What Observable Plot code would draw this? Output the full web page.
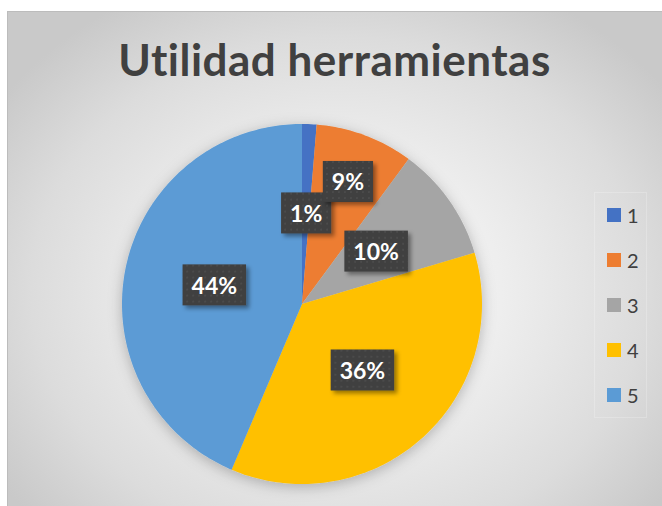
<!DOCTYPE html>
<html>
<head>
<meta charset="utf-8">
<script src="https://cdn.jsdelivr.net/npm/d3@7"></script>
<script src="https://cdn.jsdelivr.net/npm/@observablehq/plot@0.6"></script>
<style>
  body { margin: 0; background: #fff; }
  #wrap { position: relative; width: 662px; height: 506px; overflow: hidden; background: #fff; }
  #frame { position: absolute; left: 7px; top: 11px; width: 662px; height: 500px; box-sizing: border-box;
    border: 1px solid #bcbcbc;
    background: radial-gradient(ellipse 62% 68% at 50% 56%, #f8f8f8 0%, #eeeeee 40%, #dcdcdc 75%, #c9c9c9 100%); }
  #title { position: absolute; left: 7px; width: 655px; top: 33px; text-align: center;
    font-family: Lato, "Open Sans", sans-serif; font-weight: bold; font-size: 44px; letter-spacing: 0.5px;
    font-variant-ligatures: none; color: #404040; line-height: 52px; }
  #chart { position: absolute; left: 0; top: 0; }
  #legend { position: absolute; left: 594px; top: 192px; width: 53px; height: 226px; box-sizing: border-box;
    border: 1px solid rgba(255,255,255,0.22); }
  .item { position: absolute; left: 12px; height: 20px; display: flex; align-items: center;
    font-family: Lato, "Open Sans", sans-serif; font-size: 20px; color: #404040; }
  .sw { width: 14px; height: 14px; margin-right: 6px; }
</style>
</head>
<body>
<div id="wrap">
  <div id="frame"></div>
  <div id="title">Utilidad herramientas</div>
  <div id="chart"></div>
  <div id="legend"></div>
</div>
<script>
// ---- data ----
const categories = ["1", "2", "3", "4", "5"];
const values = [1.3, 8.8, 10.3, 36.0, 43.6];
const labels = ["1%", "9%", "10%", "36%", "44%"];
const colors = ["#4472C4", "#ED7D31", "#A5A5A5", "#FFC000", "#5B9BD5"];

// ---- derived geometry (from data) ----
const total = d3.sum(values);
let acc = 0;
const slices = values.map((v, i) => {
  const a0 = acc / total * 2 * Math.PI;
  acc += v;
  const a1 = acc / total * 2 * Math.PI;
  return { cat: categories[i], a0, a1, label: labels[i] };
});
const pts = slices.flatMap(s => {
  const n = Math.max(2, Math.ceil((s.a1 - s.a0) / (Math.PI / 180)));
  return d3.range(n + 1).map(k => {
    const a = s.a0 + (s.a1 - s.a0) * k / n;
    return { cat: s.cat, x: Math.sin(a), y: Math.cos(a), cx: 0, cy: 0 };
  });
});
// label placement: mid-radius, pushed outward when colliding with the previous label
const lab = [];
slices.forEach(s => {
  const m = (s.a0 + s.a1) / 2;
  let r = 0.5;
  let p = { x: r * Math.sin(m), y: r * Math.cos(m) };
  const prev = lab[lab.length - 1];
  if (prev && Math.hypot(prev.x - p.x, prev.y - p.y) < 0.3) {
    r = 0.72;
    p = { x: r * Math.sin(m), y: r * Math.cos(m) };
  }
  lab.push({ ...p, label: s.label });
});

const plot = Plot.plot({
  width: 662,
  height: 506,
  margin: 0,
  style: { background: "transparent", overflow: "visible" },
  x: { domain: [-1, 1], range: [122, 482], axis: null },
  y: { domain: [-1, 1], range: [484, 124], axis: null },
  color: { domain: categories, range: colors },
  marks: [
    Plot.area(pts, { x1: "x", y1: "y", x2: "cx", y2: "cy", z: "cat", fill: "cat", curve: "linear" }),
    Plot.text(lab, { x: "x", y: "y", text: "label", fill: "white", fontSize: 23, fontWeight: "bold",
      fontFamily: "Lato, 'Open Sans', sans-serif" })
  ]
});
document.getElementById("chart").appendChild(plot);

const svg = d3.select(plot);
const defs = svg.append("defs");
const f1 = defs.append("filter").attr("id", "pieShadow").attr("x", "-20%").attr("y", "-20%").attr("width", "140%").attr("height", "140%");
f1.append("feDropShadow").attr("dx", 0).attr("dy", 3).attr("stdDeviation", 7).attr("flood-color", "#000").attr("flood-opacity", 0.25);
const f2 = defs.append("filter").attr("id", "boxShadow").attr("x", "-30%").attr("y", "-30%").attr("width", "160%").attr("height", "160%");
f2.append("feDropShadow").attr("dx", 3).attr("dy", 3).attr("stdDeviation", 2).attr("flood-color", "#000").attr("flood-opacity", 0.4);
const pat = defs.append("pattern").attr("id", "dots").attr("width", 6).attr("height", 6).attr("patternUnits", "userSpaceOnUse");
pat.append("rect").attr("width", 6).attr("height", 6).attr("fill", "#3f3f3f");
pat.append("circle").attr("cx", 3).attr("cy", 3).attr("r", 1.1).attr("fill", "#4e4e4e");

svg.select('g[aria-label="area"]').attr("filter", "url(#pieShadow)");
svg.select('g[aria-label="text"]').selectAll("text").each(function () {
  const b = this.getBBox();
  const cy = b.y + b.height / 2;
  const tr = this.getAttribute("transform");
  const r = d3.select(this.parentNode).insert("rect", () => this)
    .attr("x", b.x - 9).attr("y", cy - 20.5)
    .attr("width", b.width + 18).attr("height", 41)
    .attr("fill", "url(#dots)").attr("filter", "url(#boxShadow)");
  if (tr) r.attr("transform", tr);
});

// legend
const lg = d3.select("#legend");
categories.forEach((c, i) => {
  const it = lg.append("div").attr("class", "item").style("top", (12 + i * 45) + "px");
  it.append("div").attr("class", "sw").style("background", colors[i]);
  it.append("span").text(c);
});
</script>
</body>
</html>
